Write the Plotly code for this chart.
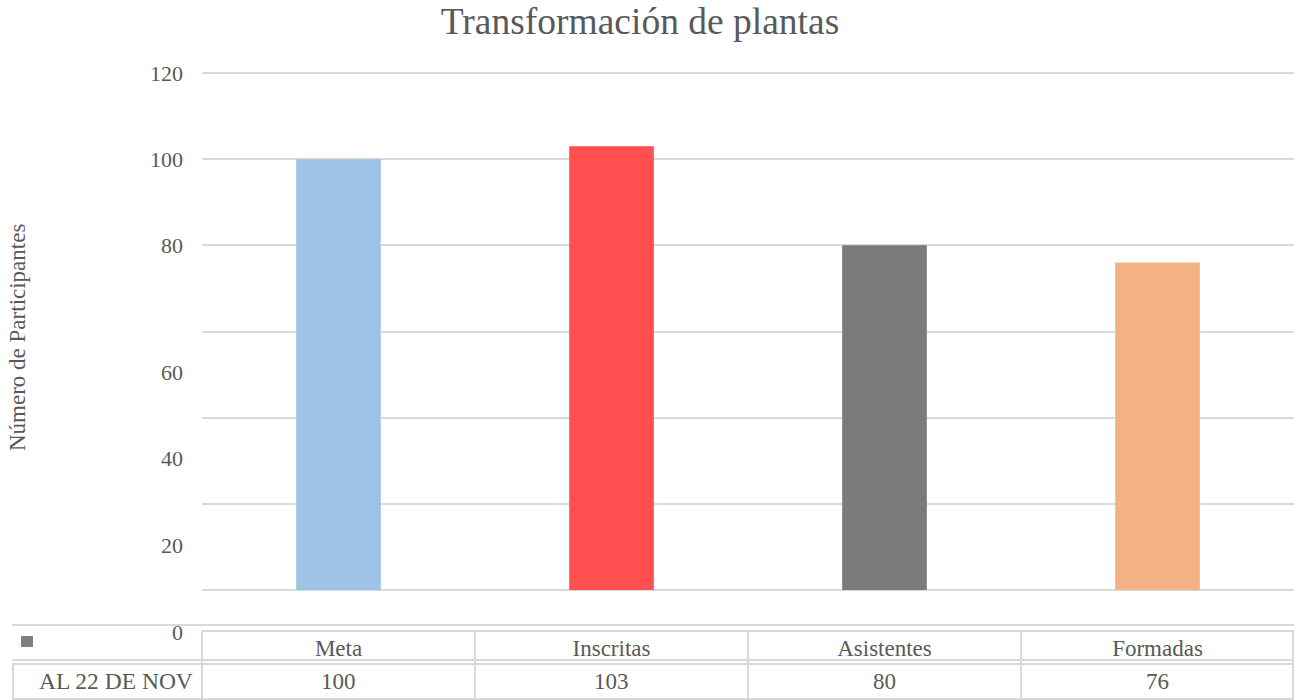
import plotly.graph_objects as go

# ---- data ----
categories = ["Meta", "Inscritas", "Asistentes", "Formadas"]
values = [100, 103, 80, 76]
bar_colors = ["#9DC3E6", "#FF4F4F", "#7B7B7B", "#F4B183"]
series_name = "AL 22 DE NOV"
title_text = "Transformación de plantas"
y_title = "Número de Participantes"
grid_vals = [0, 20, 40, 60, 80, 100, 120]
# labels as drawn in the reference (lower ones are visibly displaced)
label_vals = [120, 100, 80, 50.6, 30.6, 10.4, -9.75]
label_text = ["120", "100", "80", "60", "40", "20", "0"]

W, H = 1294, 700
FONT = "Liberation Serif, Times New Roman, serif"
TXT = "#595959"
LINE = "#D9D9D9"

def px(x):
    return x / W

def py(y):
    return 1 - y / H

# plot area: x 202..1294, value 0 at y=590, 120 at y=73
scale = (590 - 73) / 120.0
top_px, bot_px = 64, 642
y_range = [-(bot_px - 590) / scale, 120 + (73 - top_px) / scale]

fig = go.Figure()
fig.add_trace(go.Bar(
    x=categories, y=values, marker=dict(color=bar_colors, line=dict(width=0)),
    name=series_name, showlegend=False, hoverinfo="x+y",
))
# carrier for the label axis (draws nothing)
fig.add_trace(go.Scatter(x=categories, y=values, yaxis="y2", mode="none",
                         showlegend=False, hoverinfo="skip"))

fig.update_layout(
    width=W, height=H,
    margin=dict(l=0, r=0, t=0, b=0),
    paper_bgcolor="white", plot_bgcolor="rgba(0,0,0,0)",
    bargap=0.69,
    font=dict(family=FONT, color=TXT, size=22),
    title=dict(text=title_text, x=px(640), xanchor="center", y=py(21), yanchor="middle",
               xref="container", yref="container",
               font=dict(family=FONT, size=37.5, color=TXT)),
    xaxis=dict(domain=[px(202), 1], anchor="free", position=py(632),
               showgrid=False, zeroline=False, showline=False, ticks="",
               tickfont=dict(family=FONT, size=23, color=TXT), automargin=False),
    yaxis=dict(domain=[py(bot_px), py(top_px)], range=y_range,
               tickmode="array", tickvals=grid_vals, showticklabels=False,
               showgrid=True, gridcolor=LINE, gridwidth=2, zeroline=False,
               showline=False, ticks="", automargin=False),
    yaxis2=dict(overlaying="y", side="left", range=y_range, anchor="x",
                tickmode="array", tickvals=label_vals, ticktext=label_text,
                showgrid=False, zeroline=False, showline=False, ticks="",
                ticklabelstandoff=18,
                tickfont=dict(family=FONT, size=22, color=TXT), automargin=False),
)

shapes = []
def hline(x0, x1, y):
    shapes.append(dict(type="line", xref="paper", yref="paper", x0=px(x0), x1=px(x1),
                       y0=py(y), y1=py(y), layer="below", line=dict(color=LINE, width=2)))
def vline(x, y0, y1):
    shapes.append(dict(type="line", xref="paper", yref="paper", x0=px(x), x1=px(x),
                       y0=py(y0), y1=py(y1), layer="below", line=dict(color=LINE, width=2)))

# data table borders
hline(12, 1294, 625)
hline(202, 1294, 631)
hline(12, 1294, 660)
hline(12, 1294, 664)
hline(12, 1294, 699)
vline(13, 664, 699)
for xv in [202, 475, 748, 1021, 1293]:
    vline(xv, 631, 699)
# legend key
shapes.append(dict(type="rect", xref="paper", yref="paper", x0=px(21), x1=px(33),
                   y0=py(647), y1=py(636), fillcolor="#7F7F7F", line=dict(width=0)))
fig.update_layout(shapes=shapes)

ann = [dict(text=series_name, xref="paper", yref="paper", x=px(195), y=py(681),
            xanchor="right", yanchor="middle", showarrow=False,
            font=dict(family=FONT, size=23.5, color=TXT)),
       dict(text=y_title, xref="paper", yref="paper", x=px(17), y=py(338),
            xanchor="center", yanchor="middle", textangle=-90, showarrow=False,
            font=dict(family=FONT, size=23, color=TXT))]
for c, v in zip(categories, values):
    ann.append(dict(text=str(v), xref="x", yref="paper", x=c, y=py(681),
                    xanchor="center", yanchor="middle", showarrow=False,
                    font=dict(family=FONT, size=23, color=TXT)))
fig.update_layout(annotations=ann)

fig.write_html("out.html", config={"displayModeBar": False},
               post_script="document.body.style.margin='0';document.body.style.overflow='hidden';")
